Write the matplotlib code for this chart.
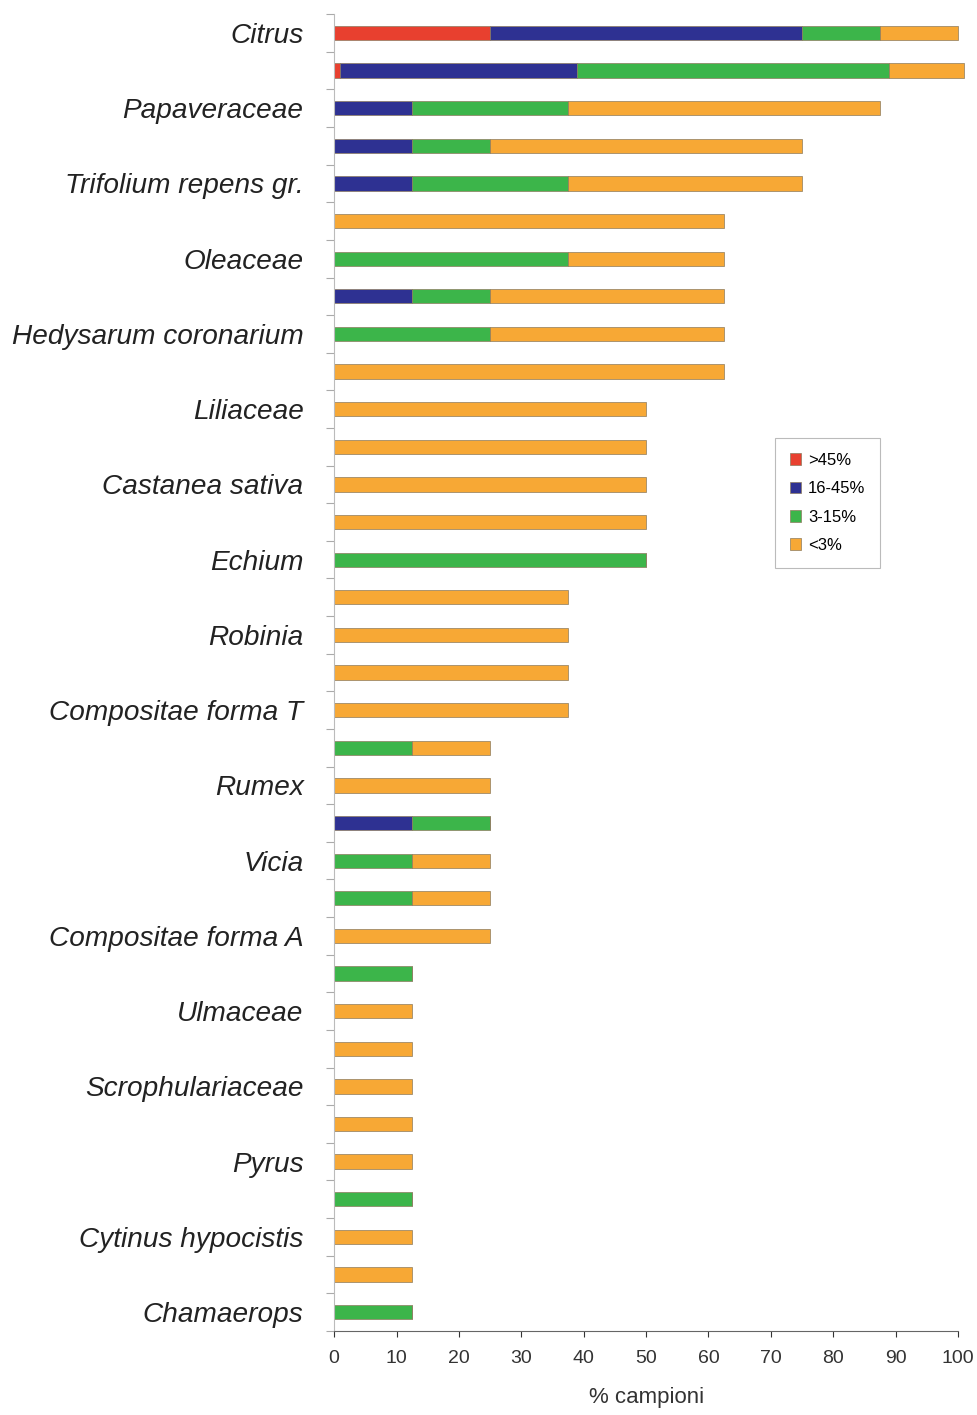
import numpy as np
import matplotlib.pyplot as plt

# etichette (una ogni due barre)
etichette = ["Citrus", "Papaveraceae", "Trifolium repens gr.", "Oleaceae",
             "Hedysarum coronarium", "Liliaceae", "Castanea sativa", "Echium",
             "Robinia", "Compositae forma T", "Rumex", "Vicia",
             "Compositae forma A", "Ulmaceae", "Scrophulariaceae", "Pyrus",
             "Cytinus hypocistis", "Chamaerops"]

# % campioni per classe, dall'alto verso il basso (35 barre)
oltre45 = [25, 1, 0, 0, 0, 0, 0, 0, 0, 0,
           0, 0, 0, 0, 0, 0, 0, 0, 0, 0,
           0, 0, 0, 0, 0, 0, 0, 0, 0, 0,
           0, 0, 0, 0, 0]
da16a45 = [50, 38, 12.5, 12.5, 12.5, 0, 0, 12.5, 0, 0,
           0, 0, 0, 0, 0, 0, 0, 0, 0, 0,
           0, 12.5, 0, 0, 0, 0, 0, 0, 0, 0,
           0, 0, 0, 0, 0]
da3a15 = [12.5, 50, 25, 12.5, 25, 0, 37.5, 12.5, 25, 0,
          0, 0, 0, 0, 50, 0, 0, 0, 0, 12.5,
          0, 12.5, 12.5, 12.5, 0, 12.5, 0, 0, 0, 0,
          0, 12.5, 0, 0, 12.5]
sotto3 = [12.5, 12, 50, 50, 37.5, 62.5, 25, 37.5, 37.5, 62.5,
          50, 50, 50, 50, 0, 37.5, 37.5, 37.5, 37.5, 12.5,
          25, 0, 12.5, 12.5, 25, 0, 12.5, 12.5, 12.5, 12.5,
          12.5, 0, 12.5, 12.5, 0]

serie_nomi = [">45%", "16-45%", "3-15%", "<3%"]
colori = ["#e8402f", "#2e3192", "#3cb54a", "#f7a835"]


def main():
    plt.rcParams['font.family'] = ['Liberation Sans', 'DejaVu Sans']
    fig = plt.figure(figsize=(9.77, 14.15), dpi=100)
    ax = fig.add_axes([0.342, 0.0594, 0.6386, 0.9306])

    serie = [np.array(s, dtype=float) for s in (oltre45, da16a45, da3a15, sotto3)]

    n = len(oltre45)
    y = np.arange(n)
    left = np.zeros(n)
    for vals, nome, col in zip(serie, serie_nomi, colori):
        ax.barh(y, vals, left=left, height=0.38, color=col, label=nome,
                edgecolor='#8c7b5e', linewidth=0.5, clip_on=False)
        left += vals

    ax.set_ylim(n - 0.5, -0.5)
    ax.set_xlim(0, 100)
    ax.set_yticks(y[::2])
    ax.set_yticklabels(etichette, fontsize=20.2, style='italic', color='#222222')
    ax.set_yticks(np.arange(-0.5, n, 1), minor=True)
    ax.tick_params(axis='y', which='major', length=0, pad=22)
    ax.tick_params(axis='y', which='minor', length=6, color='#aaaaaa', width=0.8)
    ax.set_xticks(np.arange(0, 101, 10))
    ax.tick_params(axis='x', labelsize=14, colors='#333333', length=4, width=0.8, pad=10)
    ax.set_xlabel("% campioni", fontsize=16, color='#333333', labelpad=14)

    for s in ['top', 'right']:
        ax.spines[s].set_visible(False)
    ax.spines['left'].set_color('#bbbbbb')
    ax.spines['bottom'].set_color('#666666')

    leg = ax.legend(loc='upper left', bbox_to_anchor=(0.6925, 0.6845), fontsize=12,
                    handlelength=0.7, handleheight=0.7, handletextpad=0.4,
                    labelspacing=0.8, borderpad=0.9, frameon=True, fancybox=False,
                    shadow=False, edgecolor='#aaaaaa')
    leg.get_frame().set_linewidth(0.8)

    fig.savefig("out.png", dpi=100)
    plt.close(fig)


if __name__ == "__main__":
    main()
